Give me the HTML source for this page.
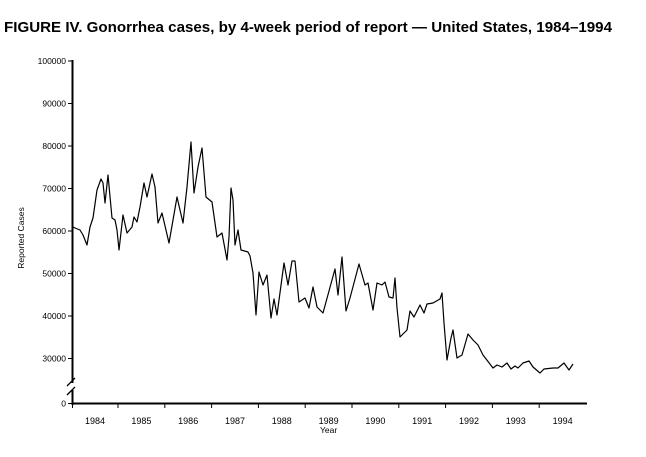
<!DOCTYPE html>
<html><head><meta charset="utf-8"><style>
html,body{margin:0;padding:0;background:#fff;}
svg{display:block;}
text{font-family:"Liberation Sans",sans-serif;fill:#000;}
</style></head><body>
<svg width="646" height="457" viewBox="0 0 646 457">
<text x="4" y="32" font-size="15" font-weight="bold" textLength="608" lengthAdjust="spacingAndGlyphs">FIGURE IV. Gonorrhea cases, by 4-week period of report — United States, 1984–1994</text>
<g stroke="#000" fill="none">
<line x1="72.5" y1="60" x2="72.5" y2="383" stroke-width="2"/>
<line x1="72.5" y1="390" x2="72.5" y2="405" stroke-width="2"/>
<line x1="67" y1="386" x2="75" y2="378" stroke-width="1.3"/>
<line x1="67" y1="395" x2="75" y2="387" stroke-width="1.3"/>
<line x1="72" y1="403.5" x2="587" y2="403.5" stroke-width="2"/>
<g stroke-width="1">
<line x1="68" y1="61" x2="72" y2="61"/><line x1="68" y1="103.5" x2="72" y2="103.5"/><line x1="68" y1="146" x2="72" y2="146"/><line x1="68" y1="188.5" x2="72" y2="188.5"/><line x1="68" y1="231" x2="72" y2="231"/><line x1="68" y1="273.5" x2="72" y2="273.5"/><line x1="68" y1="316" x2="72" y2="316"/><line x1="68" y1="358.5" x2="72" y2="358.5"/><line x1="68" y1="403.5" x2="72" y2="403.5"/>
<line x1="118" y1="403" x2="118" y2="408"/><line x1="164.8" y1="403" x2="164.8" y2="408"/><line x1="211.6" y1="403" x2="211.6" y2="408"/><line x1="258.4" y1="403" x2="258.4" y2="408"/><line x1="305.2" y1="403" x2="305.2" y2="408"/><line x1="352" y1="403" x2="352" y2="408"/><line x1="398.8" y1="403" x2="398.8" y2="408"/><line x1="445.6" y1="403" x2="445.6" y2="408"/><line x1="492.4" y1="403" x2="492.4" y2="408"/><line x1="539.2" y1="403" x2="539.2" y2="408"/><line x1="72.5" y1="403" x2="72.5" y2="408"/>
</g>
<polyline stroke-width="1.2" stroke-linejoin="round" points="72,220 73,227 75,228 80,230 83,235 87,245 90,227 93,218 97,190 101,179 103,183 105,203 108,175 112,218 115,220 117,230 119,250 123,215 127,233 132,227 134,217 137,222 140,207 144,183 147,197 152,174 155,187 158,223 162,213 169,243 177,197 183,223 187,187 191,142 194,193 198,167 202,148 206,197 212,202 217,237 222,233 227,260 229,237 231,188 233,200 235,245 238,230 241,250 248,252 250,256 253,273 256,315 259,272 263,285 267,275 271,318 274,299 277,315 284,263 288,285 292,261 295,261 299,302 305,298 309,308 313,287 317,307 323,313 335,269 338,295 342,257 346,311 350,298 359,264 365,285 368,283 373,310 377,283 382,285 385,282 389,297 393,298 395,278 397,308 400,337 407,330 410,311 414,317 420,305 424,313 427,304 433,303 440,299 442,293 444,323 447,360 451,338 453,330 457,358 462,355 468,334 473,340 478,345 483,355 493,368 497,365 502,367 507,363 511,369 515,366 518,368 523,363 529,361 533,367 540,373 544,369 553,368 558,368 564,363 569,370 573,364"/>
</g>
<g font-size="8.5" text-anchor="end">
<text x="66" y="64">100000</text><text x="66" y="106.5">90000</text><text x="66" y="149">80000</text><text x="66" y="191.5">70000</text><text x="66" y="234">60000</text><text x="66" y="276.5">50000</text><text x="66" y="319">40000</text><text x="66" y="361.5">30000</text><text x="66" y="406.5">0</text>
</g>
<g font-size="9" text-anchor="middle">
<text x="95" y="424">1984</text><text x="141.4" y="424">1985</text><text x="188.2" y="424">1986</text><text x="235" y="424">1987</text><text x="281.8" y="424">1988</text><text x="328.6" y="424">1989</text><text x="375.4" y="424">1990</text><text x="422.2" y="424">1991</text><text x="469" y="424">1992</text><text x="515.8" y="424">1993</text><text x="562.6" y="424">1994</text>
<text x="328.6" y="433" font-size="8.5">Year</text>
</g>
<text transform="translate(24,238) rotate(-90)" font-size="8.5" text-anchor="middle">Reported Cases</text>
</svg>
</body></html>
